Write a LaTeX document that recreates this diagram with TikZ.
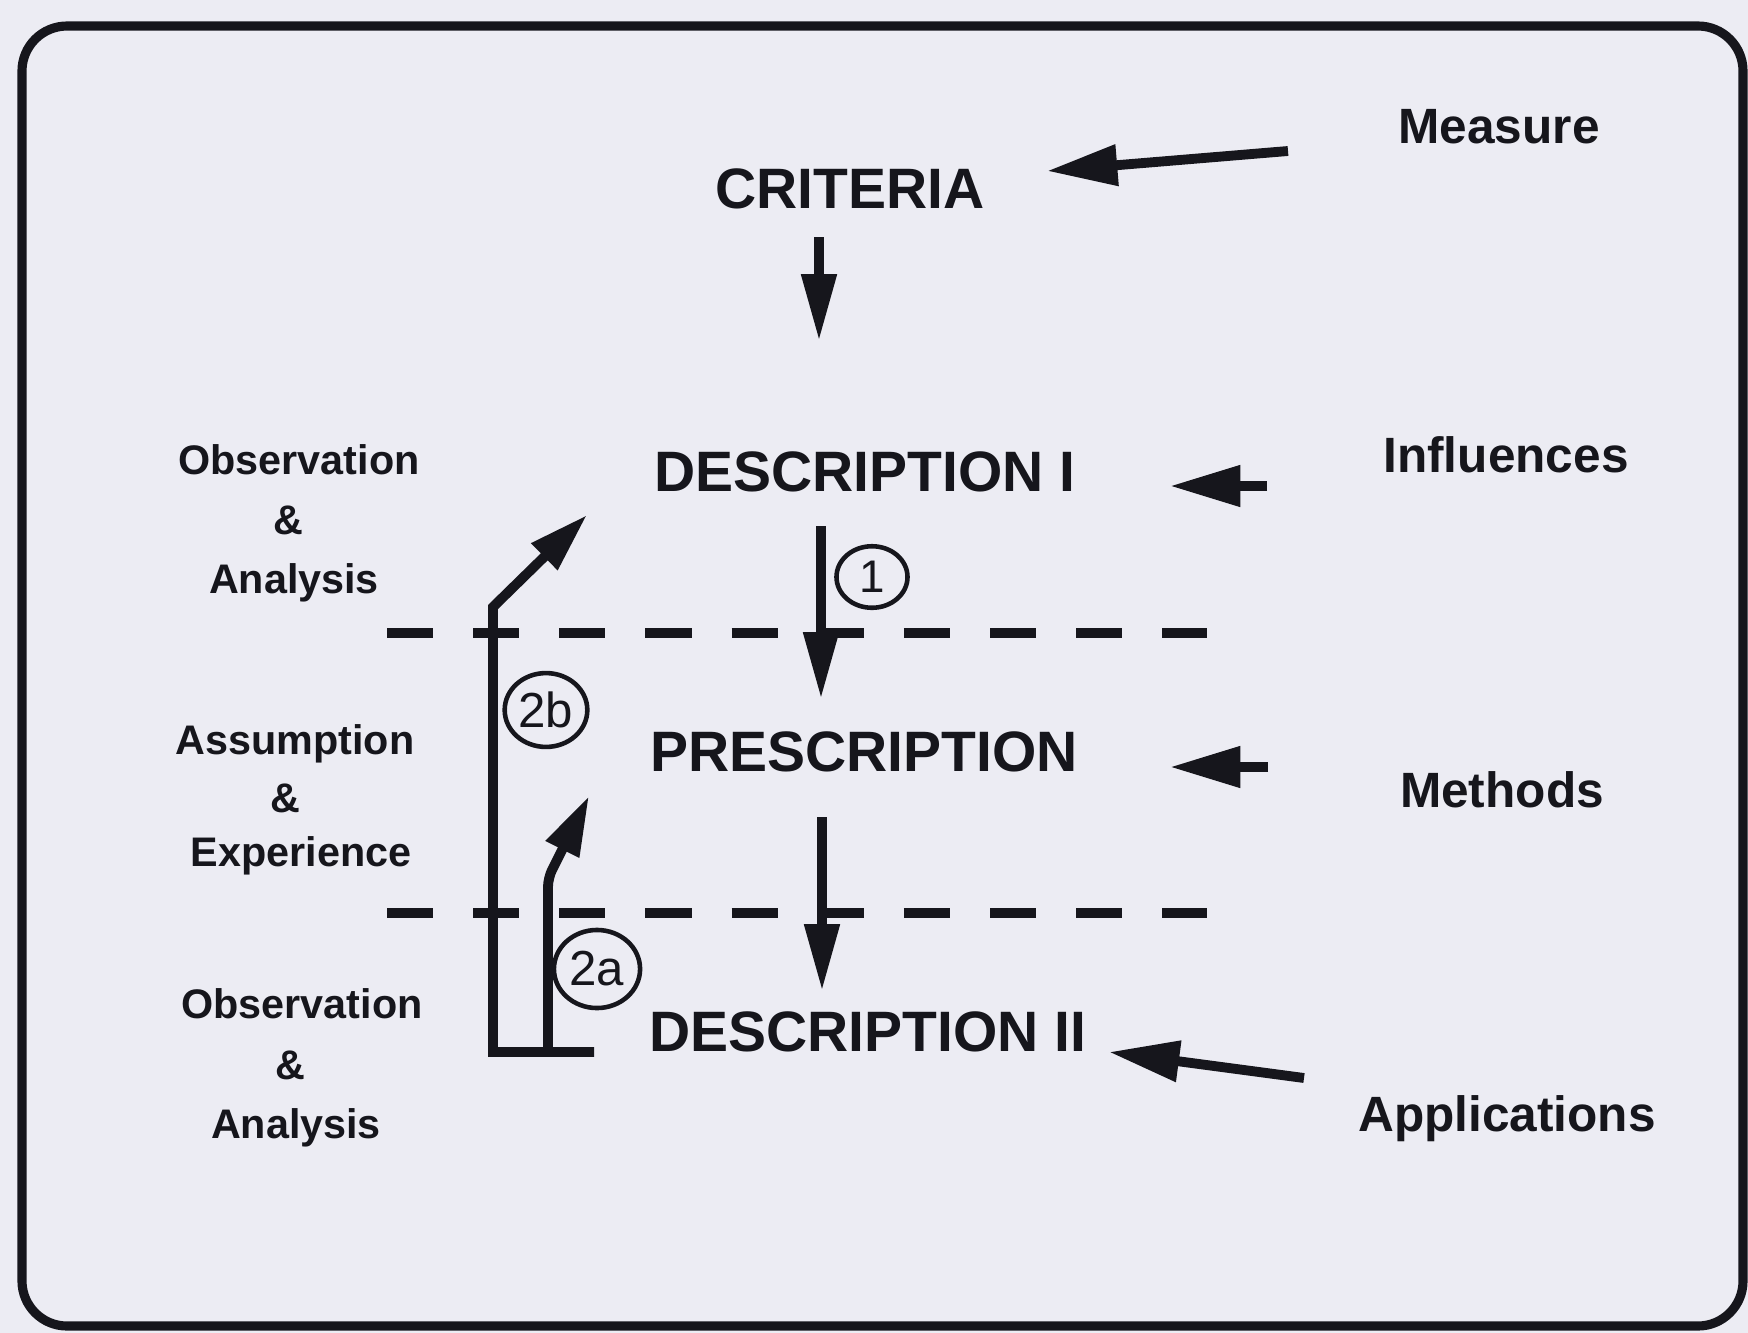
\documentclass[tikz,border=0pt]{standalone}
\usepackage{fontspec}
\setmainfont{Liberation Sans}
\usetikzlibrary{arrows.meta,shapes.geometric}
\definecolor{paper}{RGB}{236,236,243}
\definecolor{ink}{RGB}{22,22,28}
\begin{document}
\begin{tikzpicture}[x=0.01cm,y=-0.01cm,
  big/.style={font=\fontsize{16.2}{19}\selectfont\bfseries, anchor=base, inner sep=0, text=ink},
  rlbl/.style={font=\fontsize{14.1}{17}\selectfont\bfseries, anchor=base, inner sep=0, text=ink},
  llbl/.style={font=\fontsize{11.75}{14}\selectfont\bfseries, anchor=base, inner sep=0, text=ink},
  numc/.style={draw=ink, line width=1.3pt, ellipse, inner sep=0, text=ink},
  downarr/.style={draw=ink, line width=2.8pt, -{Triangle[length=19pt,width=9.5pt]}},
  sidearr/.style={draw=ink, line width=2.8pt, -{Triangle[length=20pt,width=11.2pt]}},
  feedarr/.style={draw=ink, line width=2.8pt, line join=miter, -{Triangle[length=17pt,width=10pt]}},
  dashln/.style={draw=ink, line width=3pt, dash pattern=on 13.1pt off 11.4pt},
]
% page and frame
\fill[paper] (0,0) rectangle (1748,1333);
\useasboundingbox (0,0) rectangle (1748,1333);
\draw[ink, line width=2.6pt, rounded corners=12.8pt] (22,26) rectangle (1743,1326);

% main stages
\node[big] (crit) at (850,208) {CRITERIA};
\node[big] (desc1) at (865,491) {DESCRIPTION I};
\node[big] (presc) at (864,771) {PRESCRIPTION};
\node[big] (desc2) at (868,1051) {DESCRIPTION II};

% right labels
\node[rlbl] (measure) at (1499,143) {Measure};
\node[rlbl] (influ) at (1506,472) {Influences};
\node[rlbl] (methods) at (1502,807) {Methods};
\node[rlbl] (appl) at (1507,1131) {Applications};

% left labels
\node[llbl] (oa1a) at (299,474) {Observation};
\node[llbl] (oa1b) at (288,534) {\&};
\node[llbl] (oa1c) at (294,593) {Analysis};
\node[llbl] (ae1a) at (295,754) {Assumption};
\node[llbl] (ae1b) at (285,812) {\&};
\node[llbl] (ae1c) at (301,866) {Experience};
\node[llbl] (oa2a) at (302,1018) {Observation};
\node[llbl] (oa2b) at (290,1079) {\&};
\node[llbl] (oa2c) at (296,1138) {Analysis};

% numbered circles
\node[numc, minimum width=20.2pt, minimum height=17.5pt, font=\fontsize{13}{15}\selectfont] (c1) at (872,577) {1};
\node[numc, minimum width=23.5pt, minimum height=21pt, font=\fontsize{14}{16}\selectfont] (c2b) at (546,710) {2b};
\node[numc, minimum width=24.5pt, minimum height=22.2pt, font=\fontsize{14}{16}\selectfont] (c2a) at (597,969) {2a};

% coordinates for connector ends
\coordinate (m0) at (1288,151);
\coordinate (m1) at (1047,171);
\coordinate (i0) at (1267,486);
\coordinate (i1) at (1170,486);
\coordinate (p0) at (1268,767);
\coordinate (p1) at (1170,767);
\coordinate (a0) at (1304,1078);
\coordinate (a1) at (1109,1052);
\coordinate (d0) at (819,237);
\coordinate (d1) at (819,341);
\coordinate (e0) at (821,526);
\coordinate (e1) at (821,699);
\coordinate (f0) at (822,817);
\coordinate (f1) at (822,991);
\coordinate (lb) at (594,1052);
\coordinate (lc) at (493,1052);
\coordinate (lbend) at (493,607);
\coordinate (ltip) at (587,515);
\coordinate (sb) at (548,1052);
\coordinate (sbend) at (548,878);
\coordinate (stip) at (589,796);
\coordinate (h1a) at (387,633);
\coordinate (h1b) at (1207,633);
\coordinate (h2a) at (387,913);
\coordinate (h2b) at (1207,913);

% dashed level lines
\draw[dashln] (h1a) -- (h1b);
\draw[dashln] (h2a) -- (h2b);

% external influence arrows
\draw[sidearr] (m0) -- (m1);
\draw[sidearr] (i0) -- (i1);
\draw[sidearr] (p0) -- (p1);
\draw[sidearr] (a0) -- (a1);

% main flow arrows
\draw[downarr] (d0) -- (d1);
\draw[downarr] (e0) -- (e1);
\draw[downarr] (f0) -- (f1);

% feedback paths
\draw[feedarr] (lb) -- (lc) -- (lbend) -- (ltip);
\draw[feedarr, rounded corners=2.5pt] (sb) -- (sbend) -- (stip);
\end{tikzpicture}
\end{document}
